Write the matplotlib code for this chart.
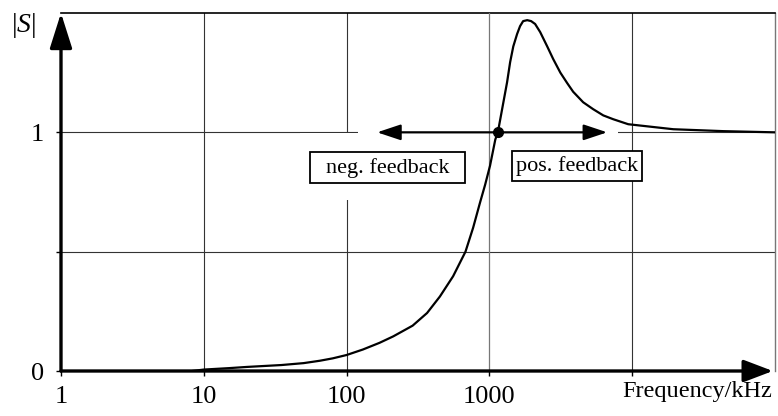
import matplotlib
matplotlib.use("Agg")
import matplotlib.pyplot as plt
from matplotlib.patches import Rectangle

plt.rcParams['font.family'] = ['Liberation Serif', 'DejaVu Serif']
plt.rcParams['mathtext.fontset'] = 'custom'
plt.rcParams['mathtext.rm'] = 'Liberation Serif'
plt.rcParams['mathtext.it'] = 'Liberation Serif:italic'

# |S|
freq = [8.3, 10, 15, 20, 35, 50, 65, 80, 100, 130, 170, 212, 290, 366, 450,
        557, 680, 769, 860, 933, 1010, 1100, 1146, 1330, 1397, 1470, 1563,
        1640, 1723, 1840, 1960, 2090, 2268, 2540, 2798, 3140, 3508, 3860,
        4536, 5330, 6270, 7360, 9380, 19400, 43400, 100000]
mag = [0, 0.006, 0.012, 0.017, 0.025, 0.033, 0.043, 0.053, 0.067, 0.09,
       0.118, 0.145, 0.19, 0.243, 0.312, 0.397, 0.5, 0.6, 0.706, 0.78,
       0.86, 0.97, 1.0, 1.21, 1.294, 1.36, 1.412, 1.445, 1.466, 1.47, 1.466,
       1.454, 1.42, 1.36, 1.307, 1.25, 1.206, 1.17, 1.126, 1.097, 1.071,
       1.055, 1.034, 1.013, 1.005, 1.0]

x_ticks = [1, 10, 100, 1000, 10000]
x_labels = ['1', '10', '100', '1000', '']
y_ticks = [0, 0.5, 1]
y_labels = ['0', '', '1']
cross_f = 1146

fig = plt.figure(figsize=(7.78, 4.16), dpi=100)
ax = fig.add_axes([61/778, 1 - 371/416, 714/778, 358/416])
ax.set_xscale('log')
ax.set_xlim(1, 1e5)
ax.set_ylim(0, 1.5)

# grid
for f in [10, 100, 10000]:
    ax.axvline(f, color='#333333', lw=0.8, zorder=1)
for v in [0.5, 1]:
    ax.axhline(v, color='#333333', lw=0.8, zorder=1)

# white areas around the annotations
ax.add_patch(Rectangle((47.2, 0.718), 7980 - 47.2, 0.996 - 0.718,
                       facecolor='white', edgecolor='none', zorder=2))
ax.add_patch(Rectangle((120.4, 0.99), 7980 - 120.4, 0.02,
                       facecolor='white', edgecolor='none', zorder=2))
ax.axvline(1000, color='#777777', lw=0.9, zorder=3)

ax.plot(freq, mag, color='black', lw=1.6, zorder=5,
        solid_capstyle='round', solid_joinstyle='round')

# arrow + dot
ax.annotate('', xy=(163.6, 1), xytext=(6680, 1),
            arrowprops=dict(arrowstyle='<|-|>,head_length=0.9,head_width=0.3',
                            lw=1.6, color='black', mutation_scale=16,
                            shrinkA=0, shrinkB=0), zorder=4)
ax.plot([cross_f], [1], 'o', color='black', ms=7, zorder=6)

# boxes
ax.add_patch(Rectangle((55.5, 0.786), 676 - 55.5, 0.916 - 0.786,
                       facecolor='white', edgecolor='black', lw=1.3, zorder=4))
ax.text(193.7, 0.851, 'neg. feedback', fontsize=16, ha='center', va='center', zorder=7)
ax.add_patch(Rectangle((1443, 0.794), 11750 - 1443, 0.920 - 0.794,
                       facecolor='white', edgecolor='black', lw=1.3, zorder=4))
ax.text(4120, 0.857, 'pos. feedback', fontsize=16, ha='center', va='center', zorder=7)

# spines
ax.spines['left'].set_visible(False)
ax.spines['bottom'].set_visible(False)
ax.spines['top'].set_linewidth(1.2)
ax.spines['right'].set_color('#777777')
ax.spines['right'].set_linewidth(1.0)

ax.annotate('', xy=(0, 1), xytext=(0, 0), xycoords='axes fraction',
            arrowprops=dict(arrowstyle='-|>,head_length=1.2,head_width=0.38',
                            lw=2.4, color='black', mutation_scale=18,
                            shrinkA=0, shrinkB=0), annotation_clip=False)
ax.annotate('', xy=(0.997, 0), xytext=(0, 0), xycoords='axes fraction',
            arrowprops=dict(arrowstyle='-|>,head_length=1.0,head_width=0.38',
                            lw=2.4, color='black', mutation_scale=18,
                            shrinkA=0, shrinkB=0), annotation_clip=False)

ax.set_xticks(x_ticks)
ax.set_xticklabels(x_labels)
ax.set_yticks(y_ticks)
ax.set_yticklabels(y_labels)
ax.minorticks_off()
ax.tick_params(axis='both', direction='out', length=3.5, width=1, labelsize=19, pad=7)
ax.tick_params(axis='y', pad=9)

fig.text(772/778, 1 - 392/416, 'Frequency/kHz', fontsize=17.5, ha='right', va='center')
fig.text(23/778, 1 - 25/416, r'$|S|$', fontsize=20, ha='center', va='center')

fig.savefig('out.png', dpi=100)
